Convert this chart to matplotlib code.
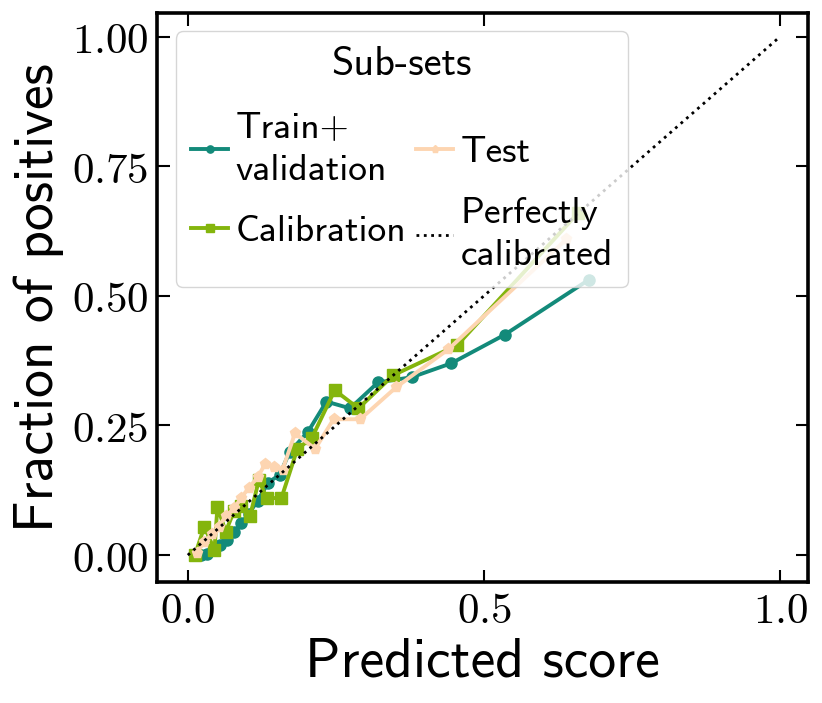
import numpy as np
import matplotlib
matplotlib.use("Agg")
import matplotlib.pyplot as plt
from matplotlib.ticker import FixedLocator, FixedFormatter

# calibration curves
train_x = [0.022, 0.032, 0.043, 0.055, 0.066, 0.078, 0.090, 0.103, 0.118, 0.136,
           0.155, 0.172, 0.203, 0.234, 0.274, 0.321, 0.378, 0.445, 0.535, 0.677]
train_y = [0.000, 0.003, 0.010, 0.020, 0.030, 0.045, 0.061, 0.080, 0.105, 0.140,
           0.155, 0.199, 0.238, 0.296, 0.283, 0.333, 0.343, 0.370, 0.425, 0.531]

calib_x = [0.012, 0.028, 0.045, 0.050, 0.064, 0.078, 0.090, 0.105, 0.120, 0.133,
           0.158, 0.185, 0.209, 0.248, 0.288, 0.347, 0.455, 0.659]
calib_y = [0.000, 0.055, 0.010, 0.093, 0.045, 0.085, 0.095, 0.075, 0.145, 0.110,
           0.110, 0.205, 0.225, 0.318, 0.283, 0.347, 0.405, 0.660]

test_x = [0.015, 0.028, 0.040, 0.052, 0.064, 0.078, 0.090, 0.103, 0.118, 0.130,
          0.145, 0.160, 0.181, 0.215, 0.246, 0.291, 0.352, 0.440, 0.639]
test_y = [0.005, 0.025, 0.040, 0.055, 0.075, 0.090, 0.110, 0.130, 0.150, 0.175,
          0.170, 0.165, 0.235, 0.205, 0.262, 0.262, 0.324, 0.397, 0.609]

xticks = [0.0, 0.5, 1.0]
yticks = [0.0, 0.25, 0.5, 0.75, 1.0]

plt.rcParams['mathtext.fontset'] = 'cm'
sans = ['cmss10', 'DejaVu Sans']

fig = plt.figure(figsize=(8.22, 7.03), dpi=100)
ax = fig.add_axes([0.191, 0.172, 0.792, 0.810])

l_train, = ax.plot(train_x, train_y, '-o', color='#138a7a', lw=2.8, ms=8,
                   label='Train+\nvalidation')
l_calib, = ax.plot(calib_x, calib_y, '-s', color='#84b50d', lw=2.8, ms=8,
                   label='Calibration')
l_test, = ax.plot(test_x, test_y, '-p', color='#fdd5b1', lw=2.8, ms=8,
                  label='Test')
l_perf, = ax.plot([0, 1], [0, 1], ':', color='black', lw=2.0,
                  label='Perfectly\ncalibrated')

ax.set_xlim(-0.052, 1.047)
ax.set_ylim(-0.052, 1.046)

ax.xaxis.set_major_locator(FixedLocator(xticks))
ax.xaxis.set_major_formatter(FixedFormatter(['$%.1f$' % v for v in xticks]))
ax.yaxis.set_major_locator(FixedLocator(yticks))
ax.yaxis.set_major_formatter(FixedFormatter(['$%.2f$' % v for v in yticks]))

ax.tick_params(direction='in', top=True, right=True, length=9, width=1.5,
               labelsize=31, pad=6)
for s in ax.spines.values():
    s.set_linewidth(2.6)

ax.set_xlabel('Predicted score', fontsize=40, family=sans, labelpad=4)
ax.set_ylabel('Fraction of positives', fontsize=40, family=sans, labelpad=6)

leg = ax.legend(handles=[l_train, l_calib, l_test, l_perf], ncol=2,
                loc='upper left', title='Sub-sets',
                prop={'family': sans, 'size': 27},
                title_fontproperties={'family': sans, 'size': 29},
                handlelength=1.0, handletextpad=0.2, columnspacing=0.25,
                labelspacing=0.75, borderaxespad=0.5, markerscale=0.65)
for t in leg.get_texts():
    t.set_linespacing(1.35)
leg.get_title().set_linespacing(1.6)

fig.savefig('out.png', dpi=100)
